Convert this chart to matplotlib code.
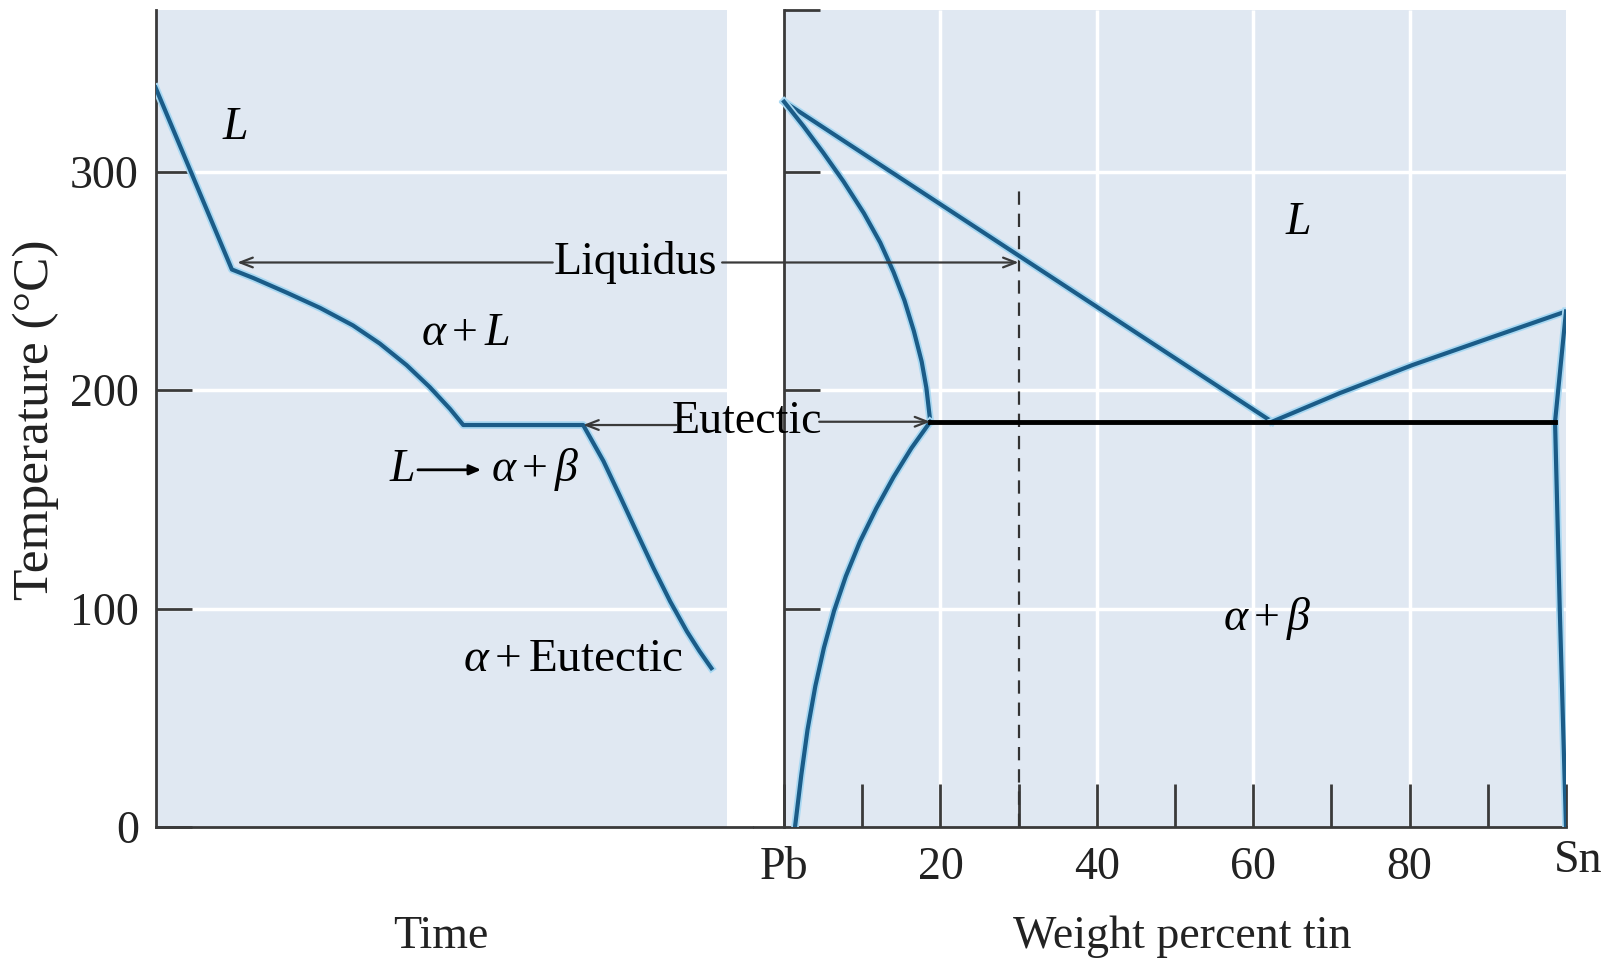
import matplotlib.pyplot as plt
import matplotlib.patheffects as pe
from matplotlib import transforms

plt.rcParams['font.family'] = ['Liberation Serif', 'DejaVu Serif']
plt.rcParams['mathtext.fontset'] = 'custom'
plt.rcParams['mathtext.rm'] = 'Liberation Serif'
plt.rcParams['mathtext.it'] = 'Liberation Serif:italic'

# cooling curve (time in arbitrary units, temperature in deg C)
cool_time = [0, 12.8, 16.4, 22.0, 27.6, 33.1, 37.6, 42.1, 46.0, 49.4, 51.6,
             71.7, 75.1, 77.9, 80.7, 83.5, 86.3, 89.1, 91.2, 93.2]
cool_temp = [338.5, 255.2, 251.3, 244.6, 237.6, 229.6, 221.3, 211.4, 201.3, 191.3, 184,
             184, 167.5, 151.3, 134.8, 118.5, 103.2, 89.5, 80.5, 72.7]

# Pb-Sn phase diagram (wt% Sn, deg C)
liq_pb_x = [0, 62.4]
liq_pb_t = [332, 185.5]
liq_sn_x = [62.4, 71.0, 80.4, 90.2, 100]
liq_sn_t = [185.5, 198.5, 211.5, 223.8, 236]
solidus_a_x = [0, 2.5, 5.0, 7.6, 10.2, 12.3, 14.0, 15.4, 16.6, 17.6, 18.2, 18.7]
solidus_a_t = [332, 320.7, 308.7, 295.5, 281, 267.5, 254, 241, 227, 213, 201, 185.5]
solvus_a_x = [18.7, 16.3, 14.0, 11.8, 9.7, 7.9, 6.4, 5.1, 4.0, 3.0, 2.2, 1.4]
solvus_a_t = [185.5, 173.5, 160.2, 145.9, 130.6, 114.8, 99.0, 82.1, 64.5, 44.5, 23.7, 0]
beta_x = [100, 98.6, 99.2, 100]
beta_t = [236, 185.5, 100, 0]
eutectic_x = [18.7, 98.6]
eutectic_t = 185.5
arrest_t = 184
alloy_x = 30
alloy_top = 294.5
liquidus_t = 258.4

temp_ticks = [0, 100, 200, 300]
wt_ticks = [0, 10, 20, 30, 40, 50, 60, 70, 80, 90, 100]
wt_labels = ['Pb', '', '20', '', '40', '', '60', '', '80', '', 'Sn']
wt_grid = [20, 40, 60, 80]

BG = '#e0e8f2'
CURVE = '#1b5c88'
AXC = '#3a3a3a'
FS = 33
halo = [pe.Stroke(linewidth=5.5, foreground='#a8d8f2'), pe.Normal()]

fig = plt.figure(figsize=(16.05, 9.66), dpi=100)
ax1 = fig.add_axes([0.0969, 0.1439, 0.3716, 0.8458])
ax2 = fig.add_axes([0.4700, 0.1439, 0.5057, 0.8458])
ax1.set_zorder(3)
ytop = 374

for ax in (ax1, ax2):
    ax.set_facecolor('none')
    ax.set_ylim(0, ytop)
    for s in ('top', 'right'):
        ax.spines[s].set_visible(False)
    for s in ('left', 'bottom'):
        ax.spines[s].set_color(AXC)
        ax.spines[s].set_linewidth(2)

# ---- left: cooling curve ----
blue_end = 95.8
ax1.set_xlim(0, 100)
ax1.axvspan(0, blue_end, color=BG, zorder=0, lw=0)
ax1.hlines(temp_ticks[1:], 0, blue_end, color='white', lw=2.5, zorder=1)
ax1.plot(cool_time, cool_temp, color=CURVE, lw=3, zorder=3, path_effects=halo,
         solid_joinstyle='round')
ax1.set_xticks([])
ax1.set_yticks(temp_ticks)
ax1.tick_params(axis='y', direction='in', length=26, width=2, color=AXC,
                labelsize=FS, labelcolor='#222222', pad=12)

# ---- right: phase diagram ----
ax2.set_xlim(-3.8, 100)
ax2.spines['left'].set_position(('data', 0))
ax2.axvspan(0, 100, color=BG, zorder=0, lw=0)
ax2.hlines(temp_ticks[1:], 0, 100, color='white', lw=2.5, zorder=1)
ax2.vlines(wt_grid, 0, ytop, color='white', lw=2.5, zorder=1)
for xs, ts in [(liq_pb_x, liq_pb_t), (liq_sn_x, liq_sn_t), (solidus_a_x, solidus_a_t),
               (solvus_a_x, solvus_a_t), (beta_x, beta_t)]:
    ax2.plot(xs, ts, color=CURVE, lw=3, zorder=3, path_effects=halo,
             solid_joinstyle='round')
ax2.plot(eutectic_x, [eutectic_t, eutectic_t], color='black', lw=3.5, zorder=4)
ax2.plot([alloy_x, alloy_x], [0, alloy_top], color='#333333', lw=1.6,
         ls=(0, (6, 4)), zorder=2)
ax2.set_xticks(wt_ticks)
ax2.set_xticklabels(wt_labels)
ax2.set_yticks(temp_ticks[1:] + [ytop])
ax2.set_yticklabels([])
ax2.tick_params(axis='x', direction='in', length=31, width=2, color=AXC,
                labelsize=FS, labelcolor='#222222', pad=14)
ax2.tick_params(axis='y', direction='in', length=26, width=2, color=AXC)
sn = ax2.get_xticklabels()[-1]
sn.set_transform(sn.get_transform() + transforms.ScaledTranslation(0.12, 0.07, fig.dpi_scale_trans))

# ---- region labels ----
ax1.text(13.3, 320, '$L$', fontsize=FS, ha='center', va='center')
ax1.text(52, 226, r'$\alpha + L$', fontsize=FS, ha='center', va='center')
ax1.text(41.3, 163.5, '$L$', fontsize=FS, ha='center', va='center')
ax1.annotate('', xy=(54.6, 163.5), xytext=(44.0, 163.5),
             arrowprops=dict(arrowstyle='-|>,head_length=0.7,head_width=0.3',
                             color='black', lw=2, shrinkA=0, shrinkB=0))
ax1.text(63.6, 163.5, r'$\alpha + \beta$', fontsize=FS, ha='center', va='center')
ax1.text(70, 76.5, r'$\alpha + $Eutectic', fontsize=34, ha='center', va='center')
ax2.text(65.7, 276.7, '$L$', fontsize=FS, ha='center', va='center')
ax2.text(61.8, 95.3, r'$\alpha + \beta$', fontsize=FS, ha='center', va='center')

# ---- Liquidus / Eutectic pointers ----
arrow = dict(arrowstyle='->,head_length=0.9,head_width=0.35', color=AXC, lw=1.6,
             shrinkA=0, shrinkB=0)
ax1.text(80.4, liquidus_t, 'Liquidus', fontsize=FS, ha='center', va='center', zorder=5)
ax1.annotate('', xy=(13.7, liquidus_t), xytext=(66.6, liquidus_t), arrowprops=arrow,
             annotation_clip=False)
ax1.annotate('', xy=(alloy_x, liquidus_t), xycoords=ax2.transData,
             xytext=(95.0, liquidus_t), textcoords=ax1.transData, arrowprops=arrow,
             annotation_clip=False)
ax1.text(99.2, eutectic_t, 'Eutectic', fontsize=FS, ha='center', va='center',
         zorder=5, clip_on=False)
ax1.annotate('', xy=(71.7, arrest_t), xytext=(87.3, arrest_t), arrowprops=arrow,
             annotation_clip=False)
ax1.annotate('', xy=(eutectic_x[0], eutectic_t), xycoords=ax2.transData,
             xytext=(4.5, eutectic_t), textcoords=ax2.transData, arrowprops=arrow,
             annotation_clip=False)

fig.text(36 / 1605, 1 - 420 / 966, 'Temperature (°C)', fontsize=37, rotation=90,
         ha='center', va='center', color='#222222')
fig.text(441 / 1605, 1 - 937 / 966, 'Time', fontsize=FS, ha='center', va='center',
         color='#222222')
fig.text(1182 / 1605, 1 - 937 / 966, 'Weight percent tin', fontsize=FS, ha='center',
         va='center', color='#222222')

fig.savefig('out.png', dpi=100)
